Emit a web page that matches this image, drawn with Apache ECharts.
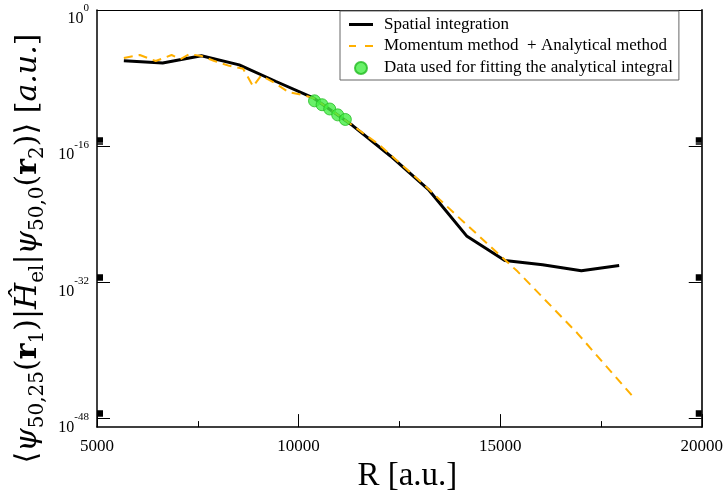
<!DOCTYPE html>
<html>
<head>
<meta charset="utf-8">
<script src="https://cdn.jsdelivr.net/npm/echarts@6/dist/echarts.min.js"></script>
<style>html,body{margin:0;padding:0;background:#fff;}#c{width:726px;height:498px;}</style>
</head>
<body>
<div id="c"></div>
<script>
// Values are log10 of the matrix element (exponent), R in a.u.
const spatialR   = [5666, 6628, 7590, 8528, 9441, 10378, 11340, 12278, 13215, 14177, 15115, 16052, 17014, 17952];
const spatialExp = [-5.95, -6.22, -5.38, -6.45, -8.40, -10.36, -13.58, -17.15, -21.06, -26.59, -29.43, -29.93, -30.62, -30.01];

const yellowR   = [5666, 6061, 6456, 6850, 7072, 7294, 7590, 7911, 8281, 8626, 8873, 9071, 9391, 9761, 10131, 10378, 11143, 11982, 12968, 13955, 15435, 16916, 18322];
const yellowExp = [-5.64, -5.29, -5.99, -5.29, -5.76, -5.18, -5.41, -5.99, -6.56, -6.91, -8.98, -7.71, -8.52, -9.67, -10.01, -10.36, -12.89, -15.77, -19.91, -24.29, -30.73, -37.98, -45.58];

const fitR   = [10395, 10583, 10773, 10970, 11160];
const fitExp = [-10.67, -11.13, -11.63, -12.32, -12.86];

const xMajor = [5000, 10000, 15000, 20000];
const xMinor = [7500, 12500, 17500];
const yMajorExp = [0, -16, -32, -48];
const minorFactors = [2, 3, 4, 5, 6, 7, 8, 9];

const seriesNames = ['Spatial integration', 'Momentum method  + Analytical method', 'Data used for fitting the analytical integral'];

const yMinorExp = [];
yMajorExp.forEach(function (n) {
  minorFactors.forEach(function (k) {
    const v = n + Math.log10(k);
    if (v <= 0) yMinorExp.push(v);
  });
});

const zip = (a, b) => a.map((v, i) => [v, b[i]]);
const serif = 'Liberation Serif';

const chart = echarts.init(document.getElementById('c'), null, {renderer: 'canvas'});

function yAxisBase(pos) {
  return {type: 'value', min: -49, max: 0, position: pos, splitLine: {show: false}};
}
function xAxisBase(pos) {
  return {type: 'value', min: 5000, max: 20000, interval: 5000, position: pos, splitLine: {show: false}, minorTick: {show: false}};
}

const option = {
  animation: false,
  backgroundColor: '#fff',
  grid: {left: 97, right: 22, top: 10, bottom: 62, containLabel: false},
  legend: {
    left: 340, top: 11, orient: 'vertical',
    backgroundColor: '#fff', borderColor: '#666', borderWidth: 1,
    padding: [5, 6, 3, 8], itemGap: 4.5, itemWidth: 24, itemHeight: 16,
    textStyle: {fontFamily: serif, fontSize: 17, lineHeight: 16, color: '#000', padding: [0, 0, 0, 6]},
    data: [
      {name: seriesNames[0], icon: 'path://M0,0 M24,16 M0,6.5 H24 V9.5 H0 Z'},
      {name: seriesNames[1], icon: 'path://M0,0 M24,16 M0,7 H7 V9 H0 Z M16,7 H24 V9 H16 Z'},
      {name: seriesNames[2], icon: 'path://M0,0 M24,16 M12,2 A6,6 0 1,1 11.99,2 Z'}
    ]
  },
  xAxis: [
    Object.assign(xAxisBase('bottom'), {
      name: 'R [a.u.]', nameLocation: 'middle', nameGap: 17,
      nameTextStyle: {fontFamily: serif, fontSize: 33, color: '#000', padding: [0, 0, 0, 16]},
      axisLine: {show: true, onZero: false, lineStyle: {color: '#000', width: 1.5}},
      axisTick: {show: true, inside: true, length: 13, customValues: xMajor, lineStyle: {color: '#000', width: 1}},
      axisLabel: {customValues: xMajor, fontFamily: serif, fontSize: 17, color: '#000', margin: 11,
        formatter: function (v) { return String(v); }}
    }),
    Object.assign(xAxisBase('bottom'), {
      axisLine: {show: false, onZero: false},
      axisTick: {show: true, inside: true, length: 6, customValues: xMinor, lineStyle: {color: '#000', width: 1}},
      axisLabel: {show: false}
    }),
    Object.assign(xAxisBase('top'), {
      axisLine: {show: true, onZero: false, lineStyle: {color: '#000', width: 1}},
      axisTick: {show: false}, axisLabel: {show: false}
    })
  ],
  yAxis: [
    Object.assign(yAxisBase('left'), {
      axisLine: {show: true, onZero: false, lineStyle: {color: '#000', width: 1.5}},
      axisTick: {show: true, inside: true, length: 13, customValues: yMajorExp, lineStyle: {color: '#000', width: 1}},
      axisLabel: {
        customValues: yMajorExp, margin: 8, padding: [10, 0, 0, 0],
        formatter: function (v) { return '{b|10}{s|' + v + '}'; },
        rich: {
          b: {fontFamily: serif, fontSize: 16, color: '#000', lineHeight: 24, verticalAlign: 'bottom'},
          s: {fontFamily: serif, fontSize: 11, color: '#000', lineHeight: 24, verticalAlign: 'top'}
        }
      },
      name: '{t|⟨}{i|ψ}{s|50,25}{t|(}{bb|r}{s|1}{t|)|}{i|Ĥ}{s|el}{t||}{i|ψ}{s|50,0}{t|(}{bb|r}{s|2}{t|)⟩ [}{i|a.u.}{t|]}',
      nameLocation: 'middle', nameGap: 49,
      nameTextStyle: {
        padding: [0, 60, 0, 0],
        rich: {
          t: {fontFamily: 'DejaVu Serif', fontSize: 30, color: '#000', lineHeight: 38, verticalAlign: 'middle'},
          i: {fontFamily: 'DejaVu Serif', fontSize: 30, fontStyle: 'italic', color: '#000', lineHeight: 38, verticalAlign: 'middle'},
          bb: {fontFamily: 'DejaVu Serif', fontSize: 30, fontWeight: 'bold', color: '#000', lineHeight: 38, verticalAlign: 'middle'},
          s: {fontFamily: 'DejaVu Serif', fontSize: 20, color: '#000', lineHeight: 38, verticalAlign: 'bottom'}
        }
      }
    }),
    Object.assign(yAxisBase('left'), {
      axisLine: {show: false, onZero: false},
      axisTick: {show: true, inside: true, length: 6, customValues: yMinorExp, lineStyle: {color: '#000', width: 1.5}},
      axisLabel: {show: false}
    }),
    Object.assign(yAxisBase('right'), {
      axisLine: {show: true, onZero: false, lineStyle: {color: '#333', width: 2}},
      axisTick: {show: true, inside: true, length: 13, customValues: yMajorExp, lineStyle: {color: '#000', width: 1}},
      axisLabel: {show: false}
    }),
    Object.assign(yAxisBase('right'), {
      axisLine: {show: false, onZero: false},
      axisTick: {show: true, inside: true, length: 6, customValues: yMinorExp, lineStyle: {color: '#000', width: 1.5}},
      axisLabel: {show: false}
    })
  ],
  series: [{
    name: seriesNames[0], type: 'line', data: zip(spatialR, spatialExp),
    symbol: 'none', z: 2,
    lineStyle: {color: '#000', width: 3},
    itemStyle: {color: '#000'}
  }, {
    name: seriesNames[1], type: 'line', data: zip(yellowR, yellowExp),
    symbol: 'none', z: 3,
    lineStyle: {color: '#ffb000', width: 2, type: [9, 6]},
    itemStyle: {color: '#ffb000'}
  }, {
    name: seriesNames[2], type: 'scatter', data: zip(fitR, fitExp),
    symbol: 'circle', symbolSize: 12, z: 4,
    itemStyle: {color: '#44ee44', borderColor: '#22bb22', borderWidth: 1}
  }]
};
chart.setOption(option);
</script>
</body>
</html>
